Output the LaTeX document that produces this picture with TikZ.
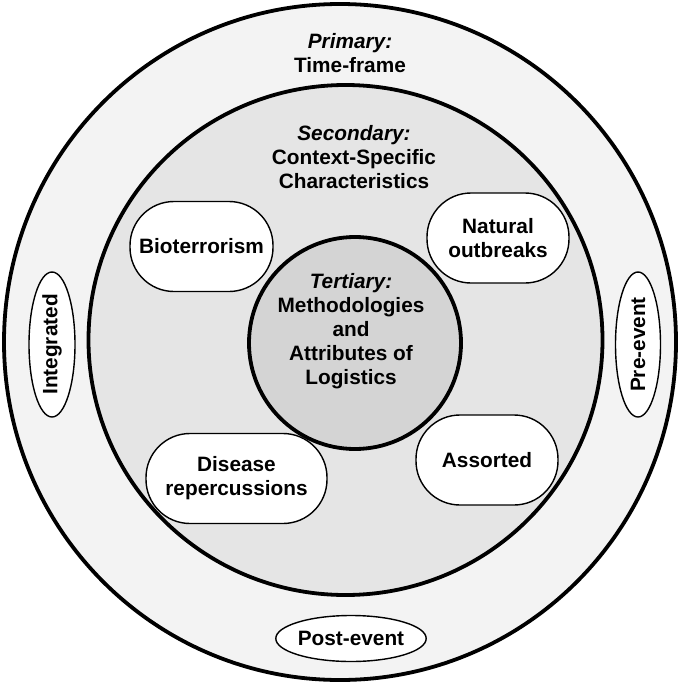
\documentclass[tikz,border=0pt]{standalone}
\usepackage{fontspec}
\setmainfont{Liberation Sans}
\usetikzlibrary{shapes.geometric}
\begin{document}
\begin{tikzpicture}[x=1pt,y=-1pt,
  lbl/.style={font=\fontsize{20.8}{24}\selectfont\bfseries, align=center, inner sep=0pt},
  pill/.style={draw=black, line width=1.4pt, fill=white, rounded corners=44pt,
    minimum width=#1, minimum height=90pt, lbl},
  pill/.default=143pt,
  oval/.style={draw=black, line width=1.4pt, fill=white, ellipse, inner sep=0pt, lbl},
  ring/.style={draw=black, line width=3.8pt}]
\useasboundingbox[fill=white] (0,0) rectangle (677,685);
% circles
\path[ring, fill={rgb,255:red,243;green,243;blue,243}] (340,342) circle[x radius=336pt, y radius=338pt];
\path[ring, fill={rgb,255:red,229;green,229;blue,229}] (345.5,340) circle[x radius=257pt, y radius=255pt];
\path[ring, fill={rgb,255:red,212;green,212;blue,212}] (355,343) circle[radius=106pt];
% titles
\node[lbl] (prim) at (350,53) {\itshape Primary:\\Time-frame};
\node[lbl] (sec) at (354,157) {\itshape Secondary:\\Context-Specific\\Characteristics};
\node[lbl] (ter) at (351,331) {\itshape Tertiary:\\Methodologies\\and\\Attributes of\\Logistics};
% pills
\node[pill] (bio) at (201.5,246.5) {Bioterrorism};
\node[pill=142pt] (nat) at (498,238) {Natural\\outbreaks};
\node[pill=181pt] (dis) at (236.5,478.5) {Disease\\repercussions};
\node[pill=142pt] (ass) at (487,460) {Assorted};
% ovals
\node[oval, minimum width=145pt, minimum height=46pt] (post) at (351,638.5) {Post-event};
\node[oval, rotate=90, minimum width=145pt, minimum height=46pt] (integ) at (52,344.5) {Integrated};
\node[oval, rotate=90, minimum width=145pt, minimum height=45pt] (pre) at (638,344.5) {Pre-event};
\end{tikzpicture}
\end{document}
